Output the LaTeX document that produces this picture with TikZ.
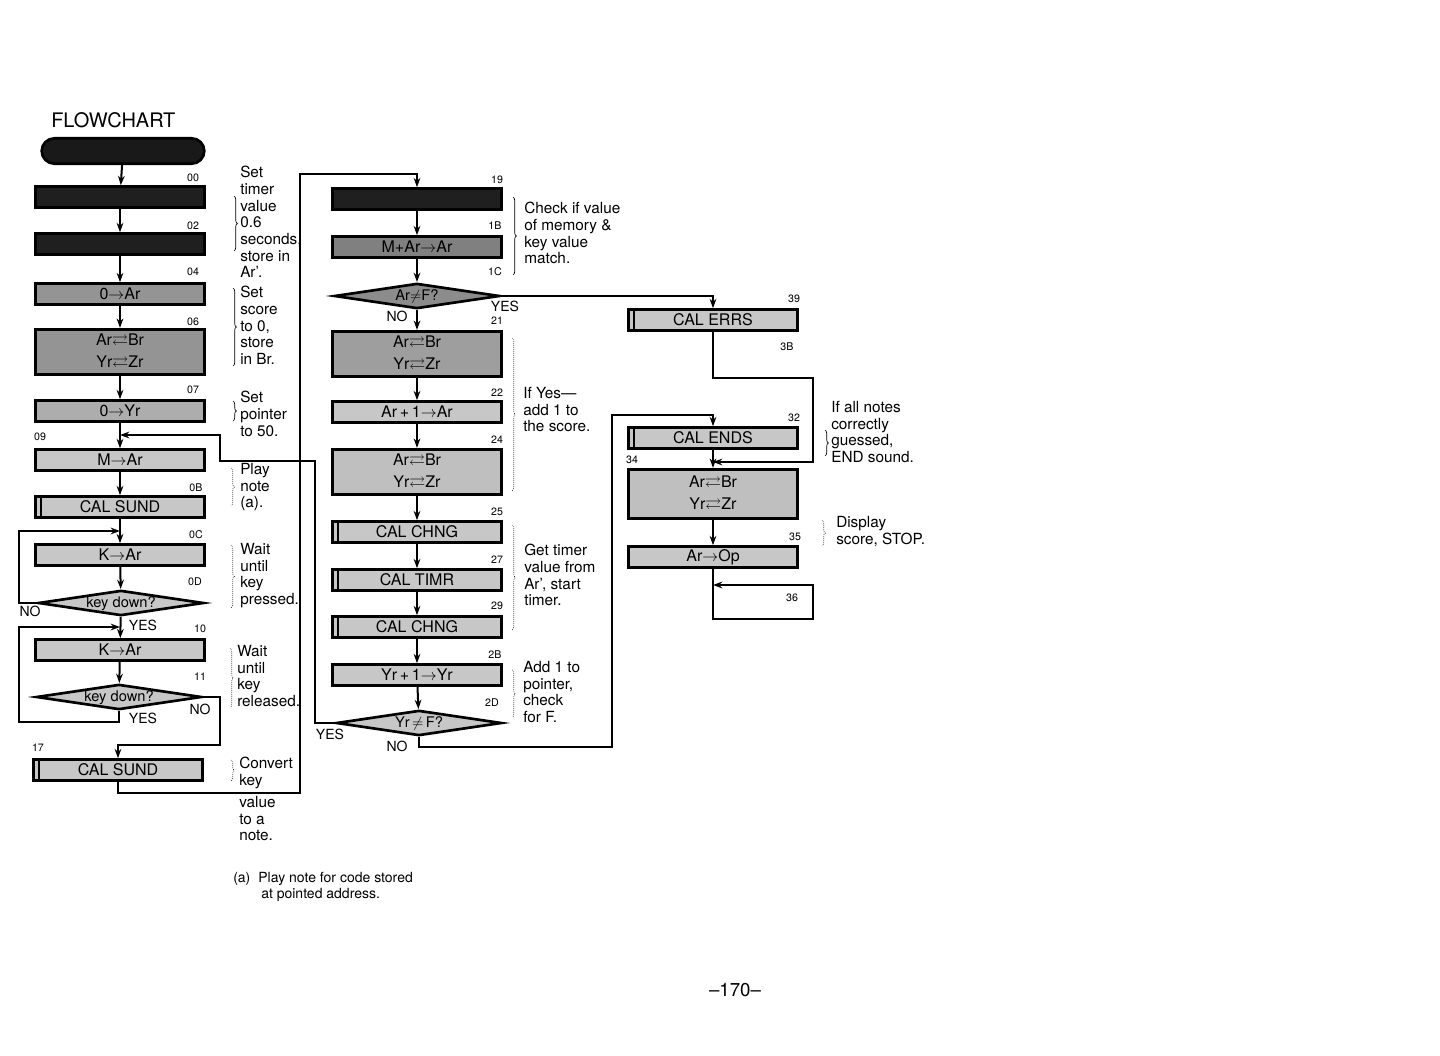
\documentclass[tikz,border=0pt]{standalone}
\usepackage{amsmath,amssymb}
\usepackage{fontspec}
\setmainfont{TeX Gyre Heros}
\usetikzlibrary{shapes.geometric,arrows.meta,decorations.pathreplacing}

\tikzset{
  box/.style={draw, line width=2.2pt, fill=black!22, minimum width=127pt,
    minimum height=15.5pt, inner sep=1pt, font=\fontsize{12}{16}\selectfont},
  midbox/.style={box, fill=black!42},
  darkbox/.style={box, fill=black!88},
  tallbox/.style={box, minimum height=34pt, align=center},
  calbox/.style={box, path picture={\draw[line width=1.3pt]
    ([xshift=4pt]path picture bounding box.north west) --
    ([xshift=4pt]path picture bounding box.south west);}},
  term/.style={draw, line width=2pt, fill=black!90, rounded corners=9.5pt,
    minimum width=122pt, minimum height=19pt},
  dia/.style={draw, diamond, line width=2pt, fill=black!22, aspect=6.4,
    minimum width=124pt, minimum height=19pt, inner sep=0pt,
    text height=8pt, text depth=2pt, font=\fontsize{11}{12}\selectfont},
  addr/.style={font=\fontsize{8}{9}\selectfont, inner sep=0pt},
  yn/.style={font=\fontsize{10.5}{12}\selectfont, inner sep=0pt},
  note/.style={font=\fontsize{11.5}{12.5}\selectfont, align=left, inner sep=0pt,
    anchor=north west},
  link/.style={line width=1.5pt},
  brk/.style={line width=0.5pt, decorate, decoration={brace, amplitude=2.5pt}}
}

\begin{document}
\begin{tikzpicture}[x=0.75pt,y=-0.75pt,>={Stealth[length=7pt,width=5pt]}]
\useasboundingbox (0,0) rectangle (1440,1056);

% Title
\node[font=\fontsize{15}{17}\selectfont, anchor=west, inner sep=0pt] (ttl) at (51,120) {FLOWCHART};

% Left column
\node[term] (start) at (123,151) {};
\node[darkbox] (b00) at (120,197) {};
\node[darkbox] (b02) at (120,244) {};
\node[midbox] (b04) at (120,294) {0$\to$Ar};
\node[tallbox, fill=black!42] (b06) at (120,352) {Ar$\rightleftarrows$Br\\Yr$\rightleftarrows$Zr};
\node[box, fill=black!32] (b07) at (120,411) {0$\to$Yr};
\node[box] (b09) at (120,460) {M$\to$Ar};
\node[calbox] (b0B) at (120,507) {CAL SUND};
\node[box] (b0C) at (120,555) {K$\to$Ar};
\node[dia] (d0D) at (121,603) {key down?};
\node[box] (b10) at (120,650) {K$\to$Ar};
\node[dia] (d11) at (119,697) {key down?};
\node[calbox] (b17) at (118,770) {CAL SUND};

% Middle column
\node[darkbox] (b19) at (417,199) {};
\node[midbox, fill=black!50] (b1B) at (417,247) {M+Ar$\to$Ar};
\node[dia, fill=black!45] (d1C) at (417,296) {Ar$\neq$F?};
\node[tallbox, fill=black!38] (b21) at (417,354) {Ar$\rightleftarrows$Br\\Yr$\rightleftarrows$Zr};
\node[box] (b22) at (417,412) {Ar$\,$+$\,$1$\to$Ar};
\node[tallbox, fill=black!25] (b24) at (417,472) {Ar$\rightleftarrows$Br\\Yr$\rightleftarrows$Zr};
\node[calbox] (b25) at (417,532) {CAL CHNG};
\node[calbox] (b27) at (417,580) {CAL TIMR};
\node[calbox] (b29) at (417,627) {CAL CHNG};
\node[box] (b2B) at (417,675) {Yr$\,$+$\,$1$\to$Yr};
\node[dia] (d2D) at (419,723) {Yr$\,\neq\,$F?};

% Right column
\node[calbox] (b39) at (713,320) {CAL ERRS};
\node[calbox] (b32) at (713,438) {CAL ENDS};
\node[tallbox, fill=black!25, minimum height=37pt] (b34) at (713,494) {Ar$\rightleftarrows$Br\\Yr$\rightleftarrows$Zr};
\node[box] (b35) at (713,557) {Ar$\to$Op};

% Addresses
\node[addr] (a00) at (193,178) {00};
\node[addr] (a02) at (193,226) {02};
\node[addr] (a04) at (193,272) {04};
\node[addr] (a06) at (193,322) {06};
\node[addr] (a07) at (193,390) {07};
\node[addr] (a09) at (40,437) {09};
\node[addr] (a0B) at (196,488) {0B};
\node[addr] (a0C) at (196,535) {0C};
\node[addr] (a0D) at (195,582) {0D};
\node[addr] (a10) at (200,629) {10};
\node[addr] (a11) at (200,677) {11};
\node[addr] (a17) at (38,748) {17};
\node[addr] (a19) at (497,180) {19};
\node[addr] (a1B) at (495,226) {1B};
\node[addr] (a1C) at (495,272) {1C};
\node[addr] (a21) at (497,321) {21};
\node[addr] (a22) at (497,393) {22};
\node[addr] (a24) at (497,440) {24};
\node[addr] (a25) at (497,512) {25};
\node[addr] (a27) at (497,560) {27};
\node[addr] (a29) at (497,606) {29};
\node[addr] (a2B) at (495,655) {2B};
\node[addr] (a2D) at (492,703) {2D};
\node[addr] (a39) at (794,299) {39};
\node[addr] (a3B) at (787,347) {3B};
\node[addr] (a32) at (794,418) {32};
\node[addr] (a34) at (632,460) {34};
\node[addr] (a35) at (795,537) {35};
\node[addr] (a36) at (792,598) {36};

% Yes / No
\node[yn] (no0D) at (30,611) {NO};
\node[yn] (ye0D) at (143,625) {YES};
\node[yn] (ye11) at (143,718) {YES};
\node[yn] (no11) at (200,709) {NO};
\node[yn] (ye1C) at (505,306) {YES};
\node[yn] (no1C) at (397,316) {NO};
\node[yn] (ye2D) at (330,734) {YES};
\node[yn] (no2D) at (397,746) {NO};

% Junctions
\coordinate (j0C) at (120,531);
\coordinate (j10) at (120,627);
\coordinate (j09) at (120,435);
\coordinate (j34) at (713,462);
\coordinate (j36) at (713,585);
\coordinate (lftA) at (19,603);
\coordinate (lftB) at (19,722);
\coordinate (rtA) at (220,745);
\coordinate (cnA) at (300,793);
\coordinate (cnB) at (300,174);
\coordinate (cnC) at (315,461);
\coordinate (cnD) at (220,435);
\coordinate (cnE) at (612,747);
\coordinate (cnF) at (612,415);
\coordinate (cnG) at (813,378);
\coordinate (cnH) at (813,619);

% Straight flow
\draw[link,->] (start) -- (b00);
\draw[link,->] (b00) -- (b02);
\draw[link,->] (b02) -- (b04);
\draw[link,->] (b04) -- (b06);
\draw[link,->] (b06) -- (b07);
\draw[link,->] (b07) -- (b09);
\draw[link,->] (b09) -- (b0B);
\draw[link,->] (b0B) -- (b0C);
\draw[link,->] (b0C) -- (d0D);
\draw[link,->] (d0D) -- (b10);
\draw[link,->] (b10) -- (d11);
\draw[link,->] (b19) -- (b1B);
\draw[link,->] (b1B) -- (d1C);
\draw[link,->] (d1C) -- (b21);
\draw[link,->] (b21) -- (b22);
\draw[link,->] (b22) -- (b24);
\draw[link,->] (b24) -- (b25);
\draw[link,->] (b25) -- (b27);
\draw[link,->] (b27) -- (b29);
\draw[link,->] (b29) -- (b2B);
\draw[link,->] (b2B) -- (d2D);
\draw[link,->] (b32) -- (b34);
\draw[link,->] (b34) -- (b35);

% Loops and branches
\draw[link,->] (d0D.west) -- (lftA) |- (j0C);
\draw[link,->] (d11.south) |- (lftB) |- (j10);
\draw[link,->] (d11.east) -| (rtA) -| (b17.north);
\draw[link,->] (b17.south) |- (cnA) -- (cnB) -| (b19.north);
\draw[link,->] (d1C.east) -| (b39.north);
\draw[link,->] (d2D.west) -| (cnC) -| (cnD) |- (j09);
\draw[link,->] (d2D.south) |- (cnE) |- (cnF) -| (b32.north);
\draw[link,->] (b39.south) |- (cnG) |- (j34);
\draw[link,->] (b35.south) |- (cnH) |- (j36);

% Remarks, left column
\node[note] (n00) at (240,166) {Set\\timer\\value\\0.6\\seconds,\\store in\\Ar'.};
\draw[brk] (234,196) -- (234,251);
\node[note] (n04) at (240,286) {Set\\score\\to 0,\\store\\in Br.};
\draw[brk] (233,288) -- (233,366);
\node[note] (n07) at (240,391) {Set\\pointer\\to 50.};
\draw[brk] (233,401) -- (233,421);
\node[note] (n09) at (240,463) {Play\\note\\(a).};
\draw[brk, densely dotted] (231,468) -- (231,506);
\node[note] (n0C) at (240,543) {Wait\\until\\key\\pressed.};
\draw[brk, densely dotted] (231,545) -- (231,608);
\node[note] (n10) at (237,645) {Wait\\until\\key\\released.};
\draw[brk, densely dotted] (230,648) -- (230,708);
\node[note] (n17) at (239,757) {Convert\\key};
\draw[brk, densely dotted] (231,760) -- (231,781);
\node[note] (n17b) at (239,796) {value\\to a\\note.};
\node[note, font=\fontsize{10.5}{12}\selectfont] (fn) at (233,872) {(a)\hspace{6pt}Play note for code stored\\\hspace{21pt}at pointed address.};

% Remarks, middle column
\node[note] (n19) at (524,202) {Check if value\\of memory \&\\key value\\match.};
\draw[brk] (513,197) -- (513,275);
\node[note] (n21) at (523,387) {If Yes---\\add 1 to\\the score.};
\draw[brk, densely dotted] (512,338) -- (512,491);
\node[note] (n25) at (524,544) {Get timer\\value from\\Ar', start\\timer.};
\draw[brk, densely dotted] (512,525) -- (512,630);
\node[note] (n2B) at (523,661) {Add 1 to\\pointer,\\check\\for F.};
\draw[brk, densely dotted] (512,670) -- (512,718);

% Remarks, right column
\node[note] (n32) at (831,401) {If all notes\\correctly\\guessed,\\END sound.};
\draw[brk] (825,430) -- (825,456);
\node[note] (n34) at (836,516) {Display\\score, STOP.};
\draw[brk, densely dotted] (822,520) -- (822,546);

% Page number
\node[font=\fontsize{14}{16}\selectfont] (pg) at (735,990) {--170--};
\end{tikzpicture}
\end{document}
